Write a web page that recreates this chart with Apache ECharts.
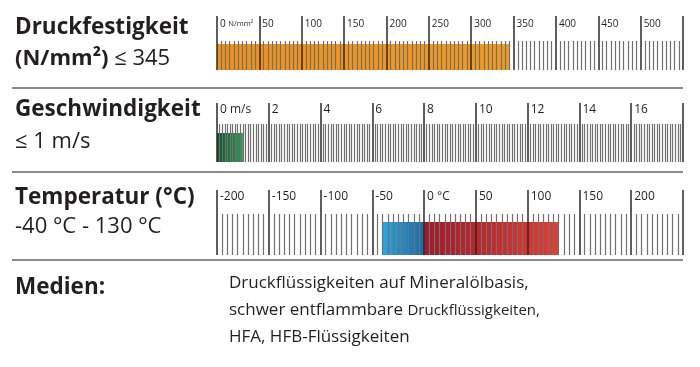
<!DOCTYPE html>
<html><head><meta charset="utf-8">
<script src="https://cdn.jsdelivr.net/npm/echarts@6/dist/echarts.min.js"></script>
<style>html,body{margin:0;padding:0;background:#fff}#c{width:700px;height:367px}</style>
</head><body><div id="c"></div>
<script>
// ---- data ----
const pressureAxis = [0, 550, 50];      // min, max, interval (N/mm²)
const pressureValue = [345];
const speedAxis = [0, 18, 2];           // m/s
const speedValue = [1];
const tempAxis = [-200, 250, 50];       // °C
const tempLow = [-40];
const tempHigh = [130];
const rowTitles = ['Druckfestigkeit', 'Geschwindigkeit', 'Temperatur (°C)'];
const rowSubs = ['≤ 345', '≤ 1 m/s', '-40 °C - 130 °C'];
const mediaLines = ['Druckflüssigkeiten auf Mineralölbasis,', 'schwer entflammbare ', 'Druckflüssigkeiten,', 'HFA, HFB-Flüssigkeiten'];

const FONT = '"Open Sans", "Noto Sans", sans-serif';
const TXT = '#231f20';
const chart = echarts.init(document.getElementById('c'));

function grad(c0, c1) {
  return new echarts.graphic.LinearGradient(0, 0, 1, 0, [{offset: 0, color: c0}, {offset: 1, color: c1}]);
}
function xAxis(idx, ax, majorLen, minorLen, minorSplit, labelMargin, fs, fmt) {
  return {
    type: 'value', gridIndex: idx, min: ax[0], max: ax[1], interval: ax[2], position: 'bottom', z: 5,
    axisLine: {show: false},
    axisTick: {show: true, inside: true, length: majorLen, lineStyle: {color: '#2a2a2a', width: 1.5}},
    minorTick: {show: true, splitNumber: minorSplit, length: minorLen, lineStyle: {color: '#707070', width: 1.2}},
    splitLine: {show: false},
    axisLabel: {inside: true, margin: labelMargin, align: 'left', verticalAlign: 'bottom', padding: [0, 0, 0, 3],
      color: TXT, fontFamily: FONT, fontSize: fs, showMaxLabel: false, formatter: fmt,
      rich: {u: {fontSize: fs - 2.5, color: TXT, fontFamily: FONT}}}
  };
}
function yAxis(idx) {
  return {type: 'category', gridIndex: idx, data: [''], show: false};
}

const option = {
  animation: false,
  grid: [
    {left: 217, right: 17, top: 44, height: 26},
    {left: 217, right: 17, top: 133, height: 29},
    {left: 217, right: 17, top: 222, height: 33}
  ],
  xAxis: [
    xAxis(0, pressureAxis, 54, 29, 10, 41, 10, v => v === 0 ? '0 {u|N/mm²}' : String(v)),
    xAxis(1, speedAxis, 59, 38, 20, 46, 12, v => v === 0 ? '0 m/s' : String(v)),
    xAxis(2, tempAxis, 65, 41, 10, 52, 12, v => v === 0 ? '0 °C' : String(v))
  ],
  yAxis: [yAxis(0), yAxis(1), yAxis(2)],
  series: [
    {type: 'bar', xAxisIndex: 0, yAxisIndex: 0, data: pressureValue, barWidth: '100%',
      itemStyle: {color: grad('#f0901a', '#f39a20')}},
    {type: 'bar', xAxisIndex: 1, yAxisIndex: 1, data: speedValue, barWidth: '100%',
      itemStyle: {color: grad('#0c4f28', '#1ea24a')}},
    {type: 'bar', xAxisIndex: 2, yAxisIndex: 2, data: tempLow, barWidth: '100%', barGap: '-100%',
      itemStyle: {color: grad('#2aa8e0', '#1a6aad')}},
    {type: 'bar', xAxisIndex: 2, yAxisIndex: 2, data: tempHigh, barWidth: '100%', barGap: '-100%',
      itemStyle: {color: grad('#a0182a', '#e63c32')}}
  ],
  graphic: [
    {type: 'line', shape: {x1: 12, y1: 88, x2: 683, y2: 88}, style: {stroke: '#8a8a8a', lineWidth: 2}},
    {type: 'line', shape: {x1: 12, y1: 172, x2: 683, y2: 172}, style: {stroke: '#8a8a8a', lineWidth: 2}},
    {type: 'line', shape: {x1: 12, y1: 260, x2: 683, y2: 260}, style: {stroke: '#8a8a8a', lineWidth: 2}},
    {type: 'text', left: 15, top: 16, style: {text: rowTitles[0], font: 'bold 22.5px ' + FONT, fill: TXT}},
    {type: 'text', left: 15, top: 48, style: {text: '{b|(N/mm²)} ' + rowSubs[0], font: '22px ' + FONT, fill: TXT,
      rich: {b: {fontWeight: 'bold', fontSize: 22, fontFamily: FONT, fill: TXT}}}},
    {type: 'text', left: 15, top: 98, style: {text: rowTitles[1], font: 'bold 22.5px ' + FONT, fill: TXT}},
    {type: 'text', left: 15, top: 131, style: {text: rowSubs[1], font: '22px ' + FONT, fill: TXT}},
    {type: 'text', left: 15, top: 186, style: {text: rowTitles[2], font: 'bold 22.5px ' + FONT, fill: TXT}},
    {type: 'text', left: 15, top: 216, style: {text: rowSubs[2], font: '22px ' + FONT, fill: TXT}},
    {type: 'text', left: 15, top: 276, style: {text: 'Medien:', font: 'bold 22.5px ' + FONT, fill: TXT}},
    {type: 'text', left: 229, top: 275, style: {text: mediaLines[0], font: '17px ' + FONT, fill: TXT}},
    {type: 'text', left: 229, top: 302, style: {text: mediaLines[1] + '{s|' + mediaLines[2] + '}', font: '17px ' + FONT, fill: TXT,
      rich: {s: {fontSize: 15, fontFamily: FONT, fill: TXT}}}},
    {type: 'text', left: 229, top: 329, style: {text: mediaLines[3], font: '17px ' + FONT, fill: TXT}}
  ]
};
chart.setOption(option);
</script></body></html>
